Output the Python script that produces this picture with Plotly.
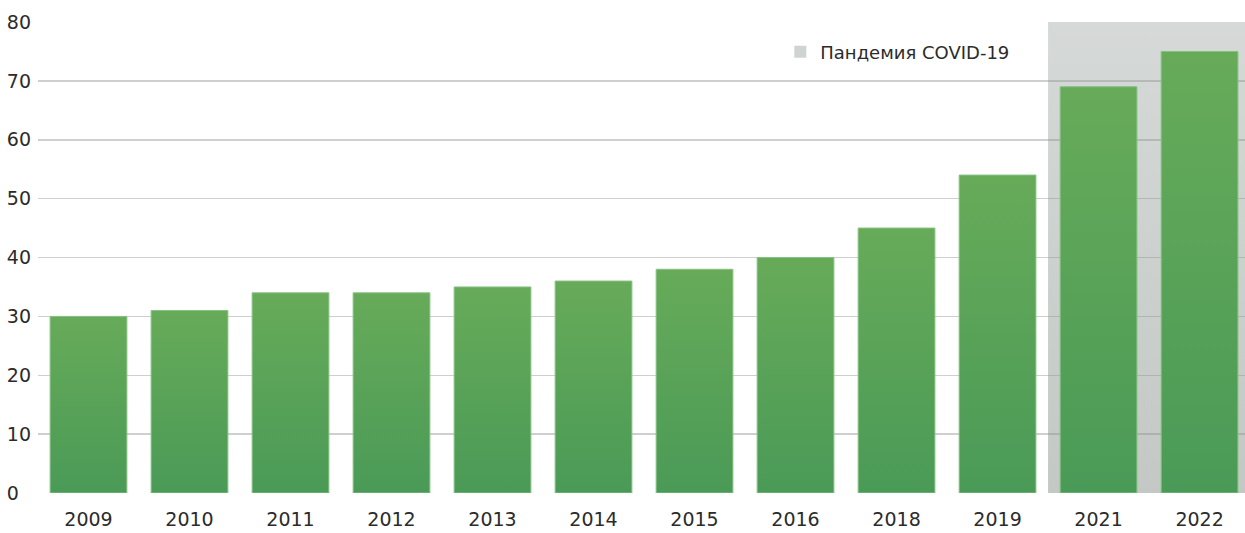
import plotly.graph_objects as go

years = ["2009", "2010", "2011", "2012", "2013", "2014", "2015", "2016", "2018", "2019", "2021", "2022"]
values = [30, 31, 34, 34, 35, 36, 38, 40, 45, 54, 69, 75]
pandemic_years = ["2021", "2022"]
pandemic_level = 80
y_ticks = [0, 10, 20, 30, 40, 50, 60, 70, 80]
legend_label = "Пандемия COVID-19"

FONT = "DejaVu Sans"

fig = go.Figure()

# pandemic shaded background (drawn as full-width bars behind the data)
fig.add_trace(go.Bar(
    x=pandemic_years,
    y=[pandemic_level] * len(pandemic_years),
    width=1.0,
    name=legend_label,
    marker=dict(color="rgba(160,168,164,0.5)", line=dict(width=0)),
    hoverinfo="skip",
    showlegend=True,
))

fig.add_trace(go.Bar(
    x=years,
    y=values,
    width=0.76,
    name="",
    marker=dict(color="#58a257", line=dict(color="#86c283", width=1)),
    showlegend=False,
))

tick_text = [(str(v) + "\u2007") if v < 10 else str(v) for v in y_ticks]

fig.update_layout(
    width=1245,
    height=533,
    margin=dict(l=38, r=0, t=22, b=40, autoexpand=False),
    paper_bgcolor="white",
    plot_bgcolor="white",
    barmode="overlay",
    font=dict(family=FONT, color="#2b2b2b", size=18),
    showlegend=True,
    legend=dict(
        x=0.615, y=0.936, xanchor="left", yanchor="middle",
        bgcolor="rgba(0,0,0,0)",
        font=dict(family=FONT, size=18, color="#2b2b2b"),
        itemclick=False, itemdoubleclick=False,
    ),
    xaxis=dict(
        type="category",
        categoryorder="array",
        categoryarray=years,
        range=[-0.5, 11.45],
        showgrid=False,
        showline=False,
        zeroline=False,
        ticks="",
        tickfont=dict(family=FONT, size=19, color="#2b2b2b"),
        ticklabelstandoff=13,
    ),
    yaxis=dict(
        range=[0, 80],
        tickvals=y_ticks,
        ticktext=tick_text,
        showgrid=True,
        gridcolor="#cfcfcf",
        gridwidth=1.5,
        zeroline=False,
        showline=False,
        ticks="",
        tickfont=dict(family=FONT, size=19, color="#2b2b2b"),
        ticklabelstandoff=6,
    ),
)

# page tweaks: no body margin, and vertical gradients on the bar fills
post = """
document.body.style.margin='0';
document.body.style.overflow='hidden';
(function(){
  var gd = document.querySelector('.plotly-graph-div');
  if(!gd) return;
  var svg = gd.querySelector('svg.main-svg');
  if(!svg) return;
  var NS = 'http://www.w3.org/2000/svg';
  var defs = svg.querySelector('defs') || svg.insertBefore(document.createElementNS(NS,'defs'), svg.firstChild);
  function grad(id, stops){
    var g = document.createElementNS(NS,'linearGradient');
    g.setAttribute('id', id);
    g.setAttribute('x1','0'); g.setAttribute('y1','0');
    g.setAttribute('x2','0'); g.setAttribute('y2','1');
    stops.forEach(function(s){
      var st = document.createElementNS(NS,'stop');
      st.setAttribute('offset', s[0]);
      st.setAttribute('stop-color', s[1]);
      st.setAttribute('stop-opacity', s[2]);
      g.appendChild(st);
    });
    defs.appendChild(g);
  }
  grad('gGreen', [['0','#67ab59',1],['1','#4a9a57',1]]);
  grad('gGray', [['0','#8c9690',0.36],['1','#8c9690',0.52]]);
  var traces = gd.querySelectorAll('.barlayer .trace');
  if(traces.length > 1){
    traces[0].querySelectorAll('path').forEach(function(p){ p.style.fill='url(#gGray)'; p.style.fillOpacity='1'; });
    traces[1].querySelectorAll('path').forEach(function(p){ p.style.fill='url(#gGreen)'; p.style.fillOpacity='1'; });
  }
})();
"""

fig.write_html(
    "out.html",
    config={"displayModeBar": False, "staticPlot": True},
    post_script=post,
)
